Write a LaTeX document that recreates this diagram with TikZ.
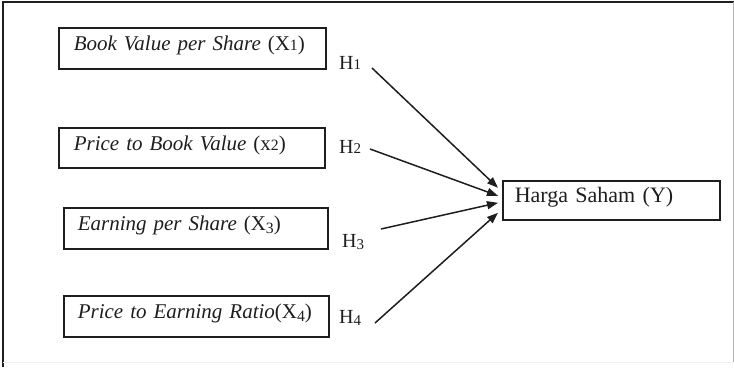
\documentclass[tikz,border=0pt]{standalone}
\usepackage{fontspec}
\setmainfont{Liberation Serif}
\usepackage{graphicx}
\usetikzlibrary{arrows.meta}
\newcommand{\osn}[2][0pt]{\raisebox{#1}{\scalebox{0.75}{#2}}}
\definecolor{ink}{HTML}{1E1E1E}
\tikzset{
  varbox/.style={draw=ink, line width=1.6pt, anchor=north west, align=left,
    inner ysep=0pt, text height=0.7em, text depth=0.25em, text=ink,
    font=\fontsize{21}{24}\selectfont\itshape},
  ybox/.style={draw=ink, line width=1.6pt, anchor=north west, align=left,
    inner ysep=0pt, text height=0.7em, text depth=0.25em, text=ink,
    font=\fontsize{22}{25}\selectfont},
  hlab/.style={anchor=base west, inner sep=0pt, text=ink, font=\fontsize{20}{24}\selectfont},
  link/.style={draw=ink, line width=1.5pt, -{Triangle[length=11pt,width=8pt]}},
  frame/.style={draw=ink, line width=2pt}
}
\begin{document}
\begin{tikzpicture}[x=1pt,y=-1pt]
\useasboundingbox (0,0) rectangle (734,367);
% outer frame
\draw[frame] (3,367) -- (3,2) -- (734,2);
\draw[draw=gray!60, line width=1pt] (733,2) -- (733,362);
\draw[draw=gray!12, line width=0.8pt] (3,362) -- (733,362);
% variable boxes
\node[varbox, minimum height=41pt, inner xsep=15pt, text width=237pt] (x1) at (58,27)
  {Book Value per Share \textup{(X\osn{1})}};
\node[varbox, minimum height=40pt, inner xsep=15pt, text width=236pt] (x2) at (58,127)
  {Price to Book Value \textup{(x\osn{2})}};
\node[varbox, minimum height=41pt, inner xsep=14pt, text width=236pt] (x3) at (63,207)
  {Earning per Share \textup{(X\osn[-0.12em]{3})}};
\node[varbox, minimum height=41pt, inner xsep=14pt, text width=237pt] (x4) at (63,295)
  {Price to Earning Ratio\textup{(X\osn[-0.12em]{4})}};
\node[ybox, minimum height=39pt, inner xsep=12pt, text width=193pt] (y) at (502,180)
  {Harga Saham (Y)};
% hypothesis labels
\node[hlab] (h1) at (339,69) {H\osn{1}};
\node[hlab] (h2) at (339,153) {H\osn{2}};
\node[hlab] (h3) at (342,247) {H\osn[-0.12em]{3}};
\node[hlab] (h4) at (339,323) {H\osn[-0.12em]{4}};
% arrow end points
\coordinate (s1) at (372,68);
\coordinate (s2) at (370,149);
\coordinate (s3) at (381,229);
\coordinate (s4) at (375,323);
\coordinate (t1) at ([xshift=-4pt,yshift=12.5pt]y.west);
\coordinate (t2) at ([xshift=-4pt,yshift=4.5pt]y.west);
\coordinate (t3) at ([xshift=-4pt,yshift=-2.5pt]y.west);
\coordinate (t4) at ([xshift=-4pt,yshift=-12.5pt]y.west);
\draw[link] (s1) -- (t1);
\draw[link] (s2) -- (t2);
\draw[link] (s3) -- (t3);
\draw[link] (s4) -- (t4);
\end{tikzpicture}
\end{document}
